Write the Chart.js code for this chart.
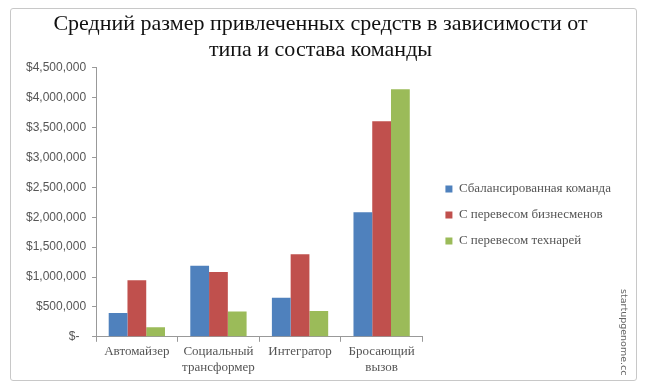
<!DOCTYPE html>
<html>
<head>
<meta charset="utf-8">
<script src="https://cdn.jsdelivr.net/npm/chart.js@4"></script>
<style>
    html, body { margin: 0; padding: 0; background: #fff; }
    #wrap { position: relative; width: 647px; height: 391px; }
    #frame {
        position: absolute; left: 10px; top: 8px; width: 627px; height: 373px;
        border: 1px solid #c8c8c8; border-radius: 3px; box-sizing: border-box;
    }
    #mark {
        position: absolute; left: 619px; top: 289px;
        writing-mode: vertical-rl; font: 9.5px "DejaVu Sans", sans-serif; color: #666;
    }
</style>
</head>
<body>
<div id="wrap">
    <div id="frame"></div>
    <canvas id="chart" width="647" height="391"></canvas>
    <div id="mark">startupgenome.cc</div>
</div>
<script>
"use strict";

// Chart data
const titleLines = ["Средний размер привлеченных средств в зависимости от", "типа и состава команды"];
const categories = [["Автомайзер"], ["Социальный", "трансформер"], ["Интегратор"], ["Бросающий", "вызов"]];
const seriesNames = ["Сбалансированная команда", "С перевесом бизнесменов", "С перевесом технарей"];
const balanced = [400000, 1190000, 655000, 2085000];
const business = [945000, 1085000, 1380000, 3605000];
const techies = [160000, 425000, 430000, 4140000];
const seriesColors = ["#4F81BD", "#C0504D", "#9BBB59"];
const yMax = 4500000;
const yStep = 500000;

const serif = "'Liberation Serif', 'DejaVu Serif', serif";
const sans = "'Liberation Sans', 'DejaVu Sans', sans-serif";

const seriesValues = [balanced, business, techies];

new Chart(document.getElementById("chart"), {
    type: "bar",
    data: {
        labels: categories,
        datasets: seriesNames.map((name, i) => ({
            label: name,
            data: seriesValues[i],
            backgroundColor: seriesColors[i],
            borderWidth: 0,
            categoryPercentage: 0.69,
            barPercentage: 1,
        })),
    },
    options: {
        responsive: false,
        animation: false,
        layout: {
            padding: { top: 11, left: 20, right: 26, bottom: 14 },
        },
        plugins: {
            tooltip: { enabled: false },
            title: {
                display: true,
                text: titleLines,
                color: "#111",
                font: { family: serif, size: 22, weight: "normal", lineHeight: 1.2 },
                padding: { top: 0, bottom: 4 },
            },
            legend: {
                position: "right",
                maxWidth: 220,
                // blank legend title only pushes the entries down a little
                title: { display: true, text: " ", font: { size: 10 }, padding: 15 },
                labels: {
                    boxWidth: 7,
                    boxHeight: 7,
                    padding: 13,
                    color: "#555",
                    font: { family: serif, size: 13 },
                },
            },
        },
        scales: {
            x: {
                offset: true,
                border: { color: "#999" },
                grid: { drawOnChartArea: false, offset: true, tickLength: 5, color: "#999" },
                ticks: { color: "#555", font: { family: serif, size: 13 }, padding: 2 },
            },
            y: {
                min: 0,
                max: yMax,
                border: { color: "#999" },
                grid: { drawOnChartArea: false, tickLength: 4, color: "#999" },
                ticks: {
                    stepSize: yStep,
                    color: "#555",
                    padding: 6,
                    font: { family: sans, size: 12 },
                    callback: (v) => (v === 0 ? "$-  " : "$" + v.toLocaleString("en-US")),
                },
            },
            // empty axis, just a gap between the plot and the legend
            gap: {
                position: "right",
                border: { display: false },
                grid: { display: false },
                ticks: { display: false },
                afterFit: (scale) => { scale.width = 10; },
            },
        },
    },
});
</script>
</body>
</html>
